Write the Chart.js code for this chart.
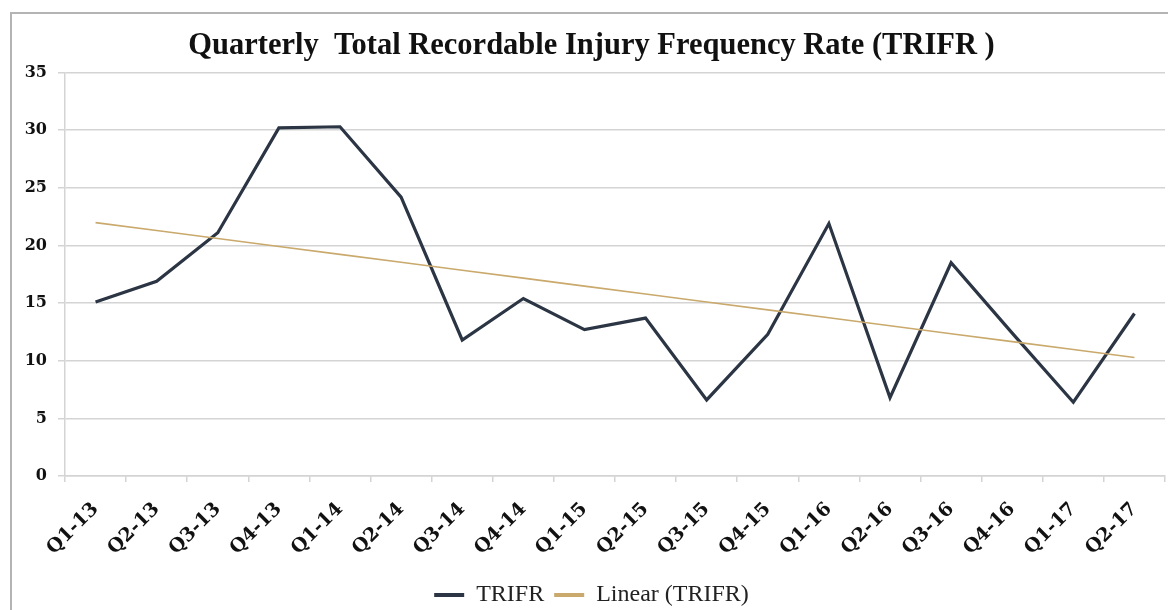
<!DOCTYPE html>
<html>
<head>
<meta charset="utf-8">
<script src="https://cdn.jsdelivr.net/npm/chart.js@4.4.0/dist/chart.umd.min.js"></script>
<style>
  html, body { margin: 0; padding: 0; background: #ffffff; overflow: hidden; }
  #frame { position: absolute; left: 10px; top: 12px; width: 1200px; height: 700px; border: 2px solid #b4b4b4; }
  #wrap { position: absolute; left: 0; top: 0; width: 1168px; height: 617px; }
</style>
</head>
<body>
<div id="frame"></div>
<div id="wrap"><canvas id="c" width="1168" height="617"></canvas></div>
<script>
// Quarter labels along the x axis
const quarters = ['Q1-13', 'Q2-13', 'Q3-13', 'Q4-13', 'Q1-14', 'Q2-14', 'Q3-14', 'Q4-14', 'Q1-15',
                  'Q2-15', 'Q3-15', 'Q4-15', 'Q1-16', 'Q2-16', 'Q3-16', 'Q4-16', 'Q1-17', 'Q2-17'];

// Total recordable injury frequency rate per quarter
const trifr = [15.1, 16.9, 21.1, 30.2, 30.3, 24.2, 11.8, 15.4, 12.7,
               13.7, 6.6, 12.3, 21.9, 6.8, 18.5, 12.4, 6.4, 14.1];

// Value axis range
const yMin = 0;
const yMax = 35;
const yStep = 5;

// Least-squares linear trend of the series (the "Linear (TRIFR)" line)
function linearTrend(values) {
  const n = values.length;
  let sx = 0, sy = 0, sxy = 0, sxx = 0;
  values.forEach((v, i) => { sx += i; sy += v; sxy += i * v; sxx += i * i; });
  const slope = (n * sxy - sx * sy) / (n * sxx - sx * sx);
  const intercept = (sy - slope * sx) / n;
  return values.map((_, i) => intercept + slope * i);
}
const trend = linearTrend(trifr);

const yTickFont = { family: 'DejaVu Serif', size: 16, weight: 'bold' };
const xTickFont = { family: 'DejaVu Serif', size: 19, weight: 'bold' };
const gridColor = '#d4d4d4';

new Chart(document.getElementById('c'), {
  type: 'line',
  data: {
    labels: quarters,
    datasets: [
      {
        label: 'TRIFR',
        data: trifr,
        borderColor: '#2b3544',
        backgroundColor: '#2b3544',
        borderWidth: 3.2,
        pointRadius: 0,
        tension: 0,
        order: 2
      },
      {
        label: 'Linear (TRIFR)',
        data: trend,
        borderColor: '#c9a96c',
        backgroundColor: '#c9a96c',
        borderWidth: 1.6,
        pointRadius: 0,
        tension: 0,
        order: 1
      }
    ]
  },
  options: {
    responsive: false,
    devicePixelRatio: 1,
    animation: false,
    layout: { padding: { left: 18, right: 3, top: 0, bottom: 0 } },
    plugins: {
      title: {
        display: true,
        text: 'Quarterly  Total Recordable Injury Frequency Rate (TRIFR )',
        color: '#111111',
        font: { family: 'Liberation Serif', size: 30.5, weight: 'bold' },
        padding: { top: 28, bottom: 8 }
      },
      legend: {
        position: 'bottom',
        labels: {
          color: '#222222',
          font: { family: 'Liberation Serif', size: 24 },
          boxWidth: 30,
          boxHeight: 4,
          padding: 10,
          generateLabels(chart) {
            return chart.data.datasets.map((ds, i) => ({
              text: ds.label,
              fillStyle: ds.borderColor,
              strokeStyle: ds.borderColor,
              lineWidth: 0,
              hidden: false,
              datasetIndex: i,
              fontColor: '#222222'
            }));
          }
        }
      },
      tooltip: { enabled: false }
    },
    scales: {
      x: {
        offset: true,
        grid: { offset: true, drawOnChartArea: false, drawTicks: true, tickLength: 6, color: gridColor, lineWidth: 1.5 },
        border: { display: true, color: gridColor, width: 1.5 },
        ticks: { color: '#111111', font: xTickFont, maxRotation: 45, minRotation: 45, autoSkip: false, padding: 16 },
        afterFit(scale) { scale.height = 97; }
      },
      y: {
        min: yMin,
        max: yMax,
        grid: { color: gridColor, lineWidth: 1.5, tickLength: 7 },
        border: { display: true, color: gridColor, width: 1.5 },
        ticks: { stepSize: yStep, color: '#111111', font: yTickFont, padding: 11 },
        afterFit(scale) { scale.width = 47; }
      }
    }
  }
});
</script>
</body>
</html>
